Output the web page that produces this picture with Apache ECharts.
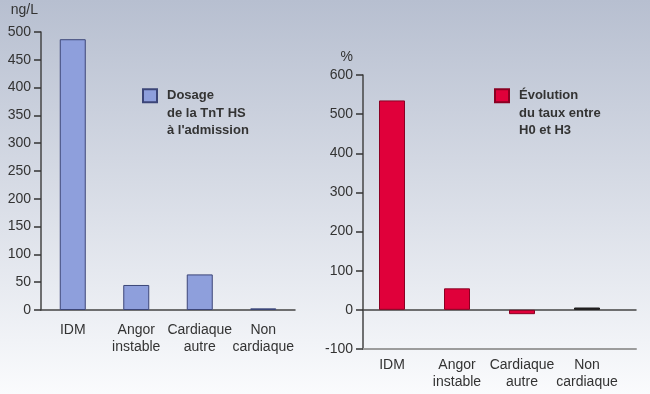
<!DOCTYPE html>
<html><head><meta charset="utf-8">
<script src="https://cdn.jsdelivr.net/npm/echarts@6/dist/echarts.min.js"></script>
<style>html,body{margin:0;padding:0}#c{width:650px;height:394px}</style>
</head><body><div id="c"></div>
<script>
const categories = ['IDM', 'Angor\ninstable', 'Cardiaque\nautre', 'Non\ncardiaque'];
const dosageValues = [487, 45, 64, 3];
const evolutionValues = [535, 55, -11, 6];
const leftTicks = { min: 0, max: 500, interval: 50 };
const rightTicks = { min: -100, max: 600, interval: 100 };
const leftName = 'Dosage\nde la TnT HS\nà l\'admission';
const rightName = 'Évolution\ndu taux entre\nH0 et H3';
const leftUnit = 'ng/L';
const rightUnit = '%';

const FONT = '"Liberation Sans", Arial, sans-serif';
const TXT = '#333';
const chart = echarts.init(document.getElementById('c'), null, {renderer: 'canvas'});
const labelStyle = {color: TXT, fontSize: 14, fontFamily: FONT, lineHeight: 17};
const valueAxisBase = {
  type: 'value', splitLine: {show: false},
  axisLine: {show: true, lineStyle: {color: '#444', width: 1.5}},
  axisTick: {show: true, length: 7, lineStyle: {color: '#333', width: 1.5}},
  axisLabel: {color: TXT, fontSize: 14, fontFamily: FONT, margin: 10}
};
// square icon in the top part of a taller box so that it lines up with the first text line
const legendIcon = 'path://M0,0L14,0L14,13L0,13Z M7,48L7,48';
const legendText = {color: TXT, fontSize: 13, fontWeight: 'bold', fontFamily: FONT, lineHeight: 17.5, padding: [0, 0, 0, 5]};
chart.setOption({
  backgroundColor: new echarts.graphic.LinearGradient(0, 0, 0, 1, [
    {offset: 0, color: '#b7bfd0'}, {offset: 1, color: '#fafbfd'}]),
  animation: false,
  legend: [
    {left: 137, top: 82, padding: 5, data: [{name: leftName, icon: legendIcon}], itemWidth: 14, itemHeight: 48,
     selectedMode: false, textStyle: legendText},
    {left: 489, top: 82, padding: 5, data: [{name: rightName, icon: legendIcon}], itemWidth: 14, itemHeight: 48,
     selectedMode: false, textStyle: legendText}
  ],
  grid: [
    {left: 41, top: 32, width: 254, height: 278},
    {left: 363, top: 75, width: 273, height: 274},
    {left: 359.5, top: 75, width: 260, height: 274}
  ],
  xAxis: [
    {type: 'category', gridIndex: 0, data: categories,
     axisLine: {lineStyle: {color: '#444', width: 1.5}}, axisTick: {show: false},
     axisLabel: Object.assign({margin: 12, interval: 0}, labelStyle)},
    {type: 'category', gridIndex: 1, data: categories,
     axisLine: {onZero: true, lineStyle: {color: '#444', width: 1.5}}, axisTick: {show: false},
     axisLabel: {show: false}},
    {type: 'category', gridIndex: 1, data: categories, position: 'bottom',
     axisLine: {onZero: false, lineStyle: {color: '#9c9c9c', width: 2}}, axisTick: {show: false},
     axisLabel: {show: false}},
    {type: 'category', gridIndex: 2, data: categories, position: 'bottom',
     axisLine: {show: false, onZero: false}, axisTick: {show: false},
     axisLabel: Object.assign({margin: 8, interval: 0}, labelStyle)}
  ],
  yAxis: [
    Object.assign({}, valueAxisBase, {gridIndex: 0, min: leftTicks.min, max: leftTicks.max, interval: leftTicks.interval,
      name: leftUnit, nameLocation: 'end', nameGap: 22,
      nameTextStyle: {color: TXT, fontSize: 14, fontFamily: FONT, align: 'right', verticalAlign: 'middle', padding: [0, 3, 0, 0]}}),
    Object.assign({}, valueAxisBase, {gridIndex: 1, min: rightTicks.min, max: rightTicks.max, interval: rightTicks.interval,
      name: rightUnit, nameLocation: 'end', nameGap: 18,
      nameTextStyle: {color: TXT, fontSize: 14, fontFamily: FONT, align: 'right', verticalAlign: 'middle', padding: [0, 10, 0, 0]}}),
    {type: 'value', gridIndex: 2, min: rightTicks.min, max: rightTicks.max, interval: rightTicks.interval, show: false}
  ],
  series: [
    {name: leftName, type: 'bar', xAxisIndex: 0, yAxisIndex: 0, barWidth: 26, data: dosageValues,
     itemStyle: {color: '#8e9fdc', borderColor: '#3c4678', borderWidth: 1}},
    {name: rightName, type: 'bar', xAxisIndex: 3, yAxisIndex: 2, barWidth: 26,
     data: evolutionValues.map((v, i) => i === 3 ? {value: v, itemStyle: {color: '#2a2426', borderColor: '#1a1a1a'}} : v),
     itemStyle: {color: '#e0003a', borderColor: '#8a0022', borderWidth: 1}}
  ]
});
</script></body></html>
